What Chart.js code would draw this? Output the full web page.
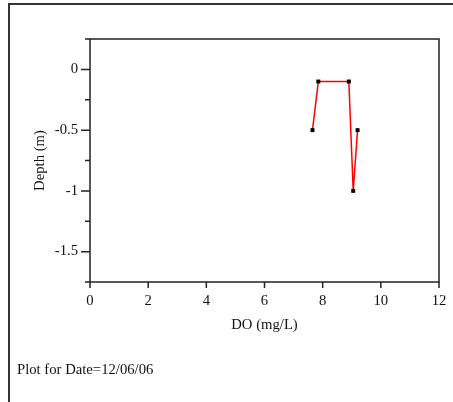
<!DOCTYPE html>
<html>
<head>
<meta charset="utf-8">
<title>DO profile</title>
<script src="https://cdn.jsdelivr.net/npm/chart.js@4.4.0/dist/chart.umd.min.js"></script>
<style>
  html, body { margin: 0; padding: 0; background: #fff; overflow: hidden; }
  #wrap { position: relative; width: 453px; height: 402px; }
  #frame {
    position: absolute; left: 8px; top: 3px; width: 470px; height: 430px;
    border-left: 2px solid #333; border-top: 2px solid #333;
  }
  #chart { position: absolute; left: 0; top: 0; }
  #note {
    position: absolute; left: 17px; top: 361px;
    font: 14.7px "Liberation Serif", "Times New Roman", serif; color: #111;
    white-space: nowrap;
  }
</style>
</head>
<body>
<div id="wrap">
  <div id="frame"></div>
  <canvas id="chart" width="453" height="402"></canvas>
  <div id="note">Plot for Date=12/06/06</div>
</div>
<script>
// dissolved oxygen readings, in the order they were plotted
const doValues = [7.65, 7.85, 8.9, 9.05, 9.2];
const depthValues = [-0.5, -0.1, -0.1, -1.0, -0.5];

const xTickValues = [0, 2, 4, 6, 8, 10, 12];
const yMajorTicks = [0, -0.5, -1, -1.5];
const yMinorTicks = [0.25, -0.25, -0.75, -1.25, -1.75];

const serif = { family: '"Liberation Serif", "Times New Roman", serif', size: 14.7 };
const inkColor = '#111';

// box around the plot area plus the outside tick marks
const axesFrame = {
    id: 'axesFrame',
    beforeDatasetsDraw(chart) {
        const { ctx, chartArea: a, scales: { x, y } } = chart;
        ctx.save();
        ctx.strokeStyle = '#222';
        ctx.lineWidth = 1.5;
        ctx.strokeRect(a.left, a.top, a.right - a.left, a.bottom - a.top);
        ctx.beginPath();
        yMajorTicks.forEach(v => {
            const p = y.getPixelForValue(v);
            ctx.moveTo(a.left - 9, p);
            ctx.lineTo(a.left, p);
        });
        yMinorTicks.forEach(v => {
            const p = y.getPixelForValue(v);
            ctx.moveTo(a.left - 5, p);
            ctx.lineTo(a.left, p);
        });
        xTickValues.forEach(v => {
            const p = x.getPixelForValue(v);
            ctx.moveTo(p, a.bottom);
            ctx.lineTo(p, a.bottom + 6);
        });
        ctx.stroke();
        ctx.restore();
    }
};

const points = doValues.map((v, i) => ({ x: v, y: depthValues[i] }));

new Chart(document.getElementById('chart'), {
    type: 'scatter',
    data: {
        datasets: [{
            label: 'DO',
            data: points,
            showLine: true,
            borderColor: '#ff0000',
            borderWidth: 1.5,
            tension: 0,
            pointStyle: 'rect',
            pointRadius: 2.8,
            pointBackgroundColor: '#000',
            pointBorderWidth: 0
        }]
    },
    options: {
        responsive: false,
        devicePixelRatio: 1,
        animation: false,
        layout: { padding: { left: 0, top: 39, right: 14, bottom: 68 } },
        plugins: {
            legend: { display: false },
            tooltip: { enabled: false }
        },
        scales: {
            x: {
                type: 'linear',
                min: 0,
                max: 12,
                afterBuildTicks: s => { s.ticks = xTickValues.map(v => ({ value: v })); },
                afterFit: s => {
                    s.height = 52;
                    s.paddingLeft = 0;
                    s.paddingRight = 0;
                },
                grid: { display: false, drawTicks: false },
                border: { display: false },
                ticks: { font: serif, color: inkColor, padding: 10, maxRotation: 0 },
                title: {
                    display: true, text: 'DO (mg/L)', font: serif, color: inkColor,
                    padding: { top: 0, bottom: 0 }
                }
            },
            y: {
                type: 'linear',
                min: -1.75,
                max: 0.25,
                afterBuildTicks: s => { s.ticks = yMajorTicks.map(v => ({ value: v })); },
                afterFit: s => {
                    s.width = 90;
                    s.paddingTop = 0;
                    s.paddingBottom = 0;
                },
                grid: { display: false, drawTicks: false },
                border: { display: false },
                ticks: {
                    font: serif, color: inkColor, padding: 12,
                    callback: v => String(v)
                },
                title: {
                    display: true, text: 'Depth (m)', font: serif, color: inkColor,
                    padding: { top: 31.6, bottom: 0 }
                }
            }
        }
    },
    plugins: [axesFrame]
});
</script>
</body>
</html>
